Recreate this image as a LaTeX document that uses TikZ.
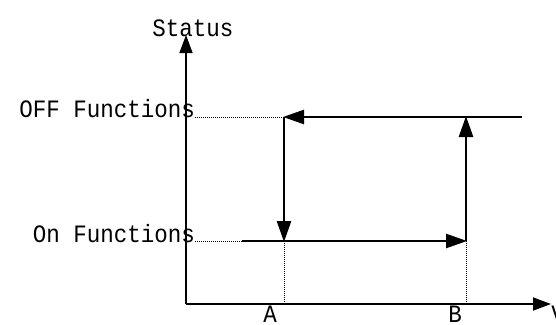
\documentclass[tikz,border=0pt]{standalone}
\usepackage{fontspec}
\newfontfamily\monof[FakeStretch=0.9]{Liberation Mono}
\usetikzlibrary{arrows.meta}
\begin{document}
\begin{tikzpicture}[x=1pt,y=-1pt,
  lbl/.style={font=\monof\fontsize{25}{27}\selectfont, inner sep=0pt},
  axis/.style={line width=1.5pt, -{Triangle[length=18pt,width=13pt]}},
  flow/.style={line width=2.5pt, -{Triangle[length=21pt,width=14pt]}, shorten >=-1pt},
  guide/.style={line width=0.9pt, dash pattern=on 1pt off 1pt}]
\useasboundingbox (0,0) rectangle (556,324);
% axes
\coordinate (O) at (186,304);
\coordinate (ytop) at (186,35);
\coordinate (xend) at (551,304);
\draw[axis] (O) -- (ytop);
\draw[axis] (O) -- (xend);
% labels
\node[lbl, anchor=base] (status) at (193,36) {Status};
\node[lbl, anchor=base east] (offT) at (195,117) {OFF Functions};
\node[lbl, anchor=base east] (onT) at (195,242) {On Functions};
\node[lbl, anchor=base] (A) at (270,322) {A};
\node[lbl, anchor=base] (B) at (455,322) {B};
\node[lbl, anchor=base] (V) at (558,322) {V};
% corners
\coordinate (P1) at (284,117);
\coordinate (P2) at (284,241);
\coordinate (P3) at (466,241);
\coordinate (P4) at (466,117);
\coordinate (Ls) at (242,241);
\coordinate (Re) at (522,117);
\coordinate (Af) at (284,304);
\coordinate (Bf) at (466,304);
% guides
\draw[guide] (offT.base east) -- (P1);
\draw[guide] (onT.base east |- Ls) -- (Ls);
\draw[guide] (P2) -- (Af);
\draw[guide] (P3) -- (Bf);
% hysteresis loop
\draw[flow] (Re) -- (P1);
\draw[flow] (P1) -- (P2);
\draw[flow] (Ls) -- (P3);
\draw[flow] (P3) -- (P4);
\end{tikzpicture}
\end{document}
